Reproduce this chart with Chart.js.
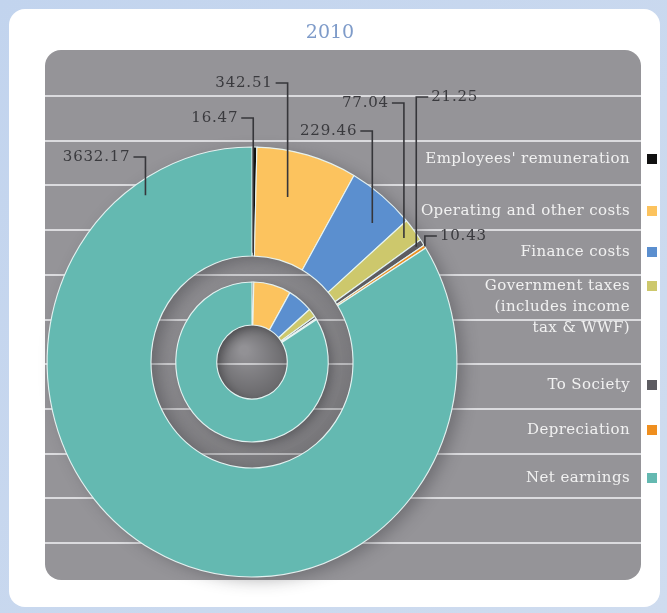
<!DOCTYPE html>
<html>
<head>
<meta charset="utf-8">
<script src="https://cdn.jsdelivr.net/npm/chart.js@4.4.1/dist/chart.umd.min.js"></script>
<style>
  html, body { margin: 0; padding: 0; background: #c5d7ee; }
  #wrap { position: relative; width: 667px; height: 613px; }
</style>
</head>
<body>
<div id="wrap"><canvas id="chart2010" width="667" height="613"></canvas></div>
<script>
// 2010 value distribution
var categories = ["Employees' remuneration", "Operating and other costs", "Finance costs",
  "Government taxes (includes income tax & WWF)", "To Society", "Depreciation", "Net earnings"];
var legendLines = [["Employees' remuneration"], ["Operating and other costs"], ["Finance costs"],
  ["Government taxes", "(includes income", "tax & WWF)"], ["To Society"], ["Depreciation"], ["Net earnings"]];
var values2010 = [16.47, 342.51, 229.46, 77.04, 21.25, 10.43, 3632.17];
var sliceColors = ["#111111", "#fcc35e", "#5b8fcf", "#cdc86c", "#5d5c61", "#ef8f1f", "#64b9b1"];

// where each value label sits and where its pointer lands inside the slice
var labelY = [118, 83, 131, 103, 97, 236, 157];
var pointerAlong = [0.5, 0.4, 0.65, 0.5, 0.5, 0.5, 0.888];
var pointerDepth = [0.03, 0.58, 0.75, 0.88, 0.93, 1.0, 0.87];
var labelSide = ["left", "left", "left", "left", "right", "right", "left"];
var legendY = [159, 211, 252, 286, 385, 430, 478];

var CX = 252, CY = 362, R = 215;
var SX = 0.953;            // rings are slightly narrower than tall
var GAP_OUT = 106, GAP_IN = 80, HOLE = 37;
var SERIF = "'DejaVu Serif', 'Liberation Serif', serif";

function ellipsePath(ctx, r) {
  ctx.ellipse(CX, CY, r * SX, r, 0, 0, Math.PI * 2);
}

var backdrop = {
  id: 'backdrop',
  beforeDraw: function (chart) {
    var ctx = chart.ctx;
    ctx.save();
    var bg = ctx.createLinearGradient(0, 0, 667, 613);
    bg.addColorStop(0, '#c2d4ee');
    bg.addColorStop(1, '#cfdcef');
    ctx.fillStyle = bg;
    ctx.fillRect(0, 0, 667, 613);

    ctx.fillStyle = '#ffffff';
    ctx.beginPath();
    ctx.roundRect(9, 9, 651, 598, 16);
    ctx.fill();

    ctx.fillStyle = '#7e9bc9';
    ctx.font = "19px " + SERIF;
    ctx.textAlign = 'center';
    ctx.textBaseline = 'middle';
    ctx.fillText('2010', 330, 33);

    ctx.fillStyle = '#959498';
    ctx.beginPath();
    ctx.roundRect(45, 50, 596, 530, 16);
    ctx.fill();

    ctx.strokeStyle = 'rgba(226,226,230,0.9)';
    ctx.lineWidth = 2;
    for (var i = 0; i < 11; i++) {
      var y = Math.round(96 + i * 44.7);
      ctx.beginPath();
      ctx.moveTo(45, y);
      ctx.lineTo(641, y);
      ctx.stroke();
    }
    ctx.restore();
  },
  beforeDatasetsDraw: function (chart) {
    var ctx = chart.ctx;
    ctx.save();
    // soft shadow under the outer ring
    ctx.shadowColor = 'rgba(40,40,45,0.35)';
    ctx.shadowBlur = 16;
    ctx.shadowOffsetX = 7;
    ctx.shadowOffsetY = 4;
    ctx.fillStyle = '#64b9b1';
    ctx.beginPath();
    ellipsePath(ctx, R - 1);
    ellipsePath(ctx, GAP_OUT + 1);
    ctx.fill('evenodd');
    ctx.restore();

    // shading in the gap between the rings
    ctx.save();
    var g = ctx.createLinearGradient(CX - GAP_OUT, CY - GAP_OUT, CX + GAP_OUT, CY + GAP_OUT);
    g.addColorStop(0, 'rgba(0,0,0,0.02)');
    g.addColorStop(1, 'rgba(0,0,0,0.22)');
    ctx.fillStyle = g;
    ctx.beginPath();
    ellipsePath(ctx, GAP_OUT);
    ellipsePath(ctx, GAP_IN);
    ctx.fill('evenodd');

    ctx.shadowColor = 'rgba(30,30,35,0.35)';
    ctx.shadowBlur = 10;
    ctx.shadowOffsetX = 4;
    ctx.shadowOffsetY = 3;
    ctx.fillStyle = '#64b9b1';
    ctx.beginPath();
    ellipsePath(ctx, GAP_IN - 1);
    ellipsePath(ctx, HOLE + 1);
    ctx.fill('evenodd');
    ctx.restore();

    // hollow centre
    ctx.save();
    var h = ctx.createRadialGradient(CX - 8, CY - 12, 4, CX, CY, HOLE);
    h.addColorStop(0, 'rgba(0,0,0,0.02)');
    h.addColorStop(1, 'rgba(0,0,0,0.3)');
    ctx.fillStyle = h;
    ctx.beginPath();
    ellipsePath(ctx, HOLE);
    ctx.fill();
    ctx.restore();

    // squeeze the arcs horizontally
    ctx.save();
    ctx.translate(CX, CY);
    ctx.scale(SX, 1);
    ctx.translate(-CX, -CY);
  },
  afterDatasetsDraw: function (chart) {
    var ctx = chart.ctx;
    ctx.restore();

    var meta = chart.getDatasetMeta(0);
    ctx.save();
    ctx.strokeStyle = '#36363a';
    ctx.fillStyle = '#3a3a3e';
    ctx.lineWidth = 1.6;
    ctx.font = "15px " + SERIF;
    ctx.letterSpacing = '0.8px';
    ctx.textBaseline = 'middle';
    meta.data.forEach(function (arc, i) {
      var p = arc.getProps(['x', 'y', 'startAngle', 'endAngle', 'innerRadius', 'outerRadius'], true);
      var a = p.startAngle + pointerAlong[i] * (p.endAngle - p.startAngle);
      var r = p.innerRadius + pointerDepth[i] * (p.outerRadius - p.innerRadius);
      var px = p.x + SX * r * Math.cos(a);
      var py = p.y + r * Math.sin(a);
      var ty = labelY[i];
      var dir = labelSide[i] === 'left' ? -1 : 1;
      ctx.beginPath();
      ctx.moveTo(px, py);
      ctx.lineTo(px, ty);
      ctx.lineTo(px + dir * 12, ty);
      ctx.stroke();
      ctx.textAlign = dir < 0 ? 'right' : 'left';
      ctx.fillText(values2010[i].toFixed(2), px + dir * 15, ty);
    });
    ctx.restore();

    // legend: text right-aligned, swatch to the right
    ctx.save();
    ctx.font = "15px " + SERIF;
    ctx.letterSpacing = '0.4px';
    ctx.textAlign = 'right';
    ctx.textBaseline = 'middle';
    legendLines.forEach(function (lines, i) {
      ctx.fillStyle = '#f1f1f1';
      lines.forEach(function (t, k) {
        ctx.fillText(t, 630, legendY[i] + k * 21);
      });
      ctx.fillStyle = sliceColors[i];
      ctx.fillRect(647, legendY[i] - 5, 10, 10);
    });
    ctx.restore();
  }
};

var ringBorder = 'rgba(232,246,244,0.95)';

new Chart(document.getElementById('chart2010').getContext('2d'), {
  type: 'doughnut',
  data: {
    labels: categories,
    datasets: [
      { data: values2010, backgroundColor: sliceColors, borderColor: ringBorder, borderWidth: 1.2, weight: 109, clip: false },
      { data: [1], backgroundColor: 'rgba(0,0,0,0)', borderWidth: 0, weight: 26, clip: false },
      { data: values2010, backgroundColor: sliceColors, borderColor: ringBorder, borderWidth: 1.2, weight: 43, clip: false }
    ]
  },
  options: {
    responsive: false,
    animation: false,
    events: [],
    radius: R,
    cutout: (HOLE / R * 100) + '%',
    layout: { padding: { left: CX - R, right: 667 - (CX + R), top: CY - R, bottom: 613 - (CY + R) } },
    plugins: { legend: { display: false }, tooltip: { enabled: false }, title: { display: false } }
  },
  plugins: [backdrop]
});
</script>
</body>
</html>
